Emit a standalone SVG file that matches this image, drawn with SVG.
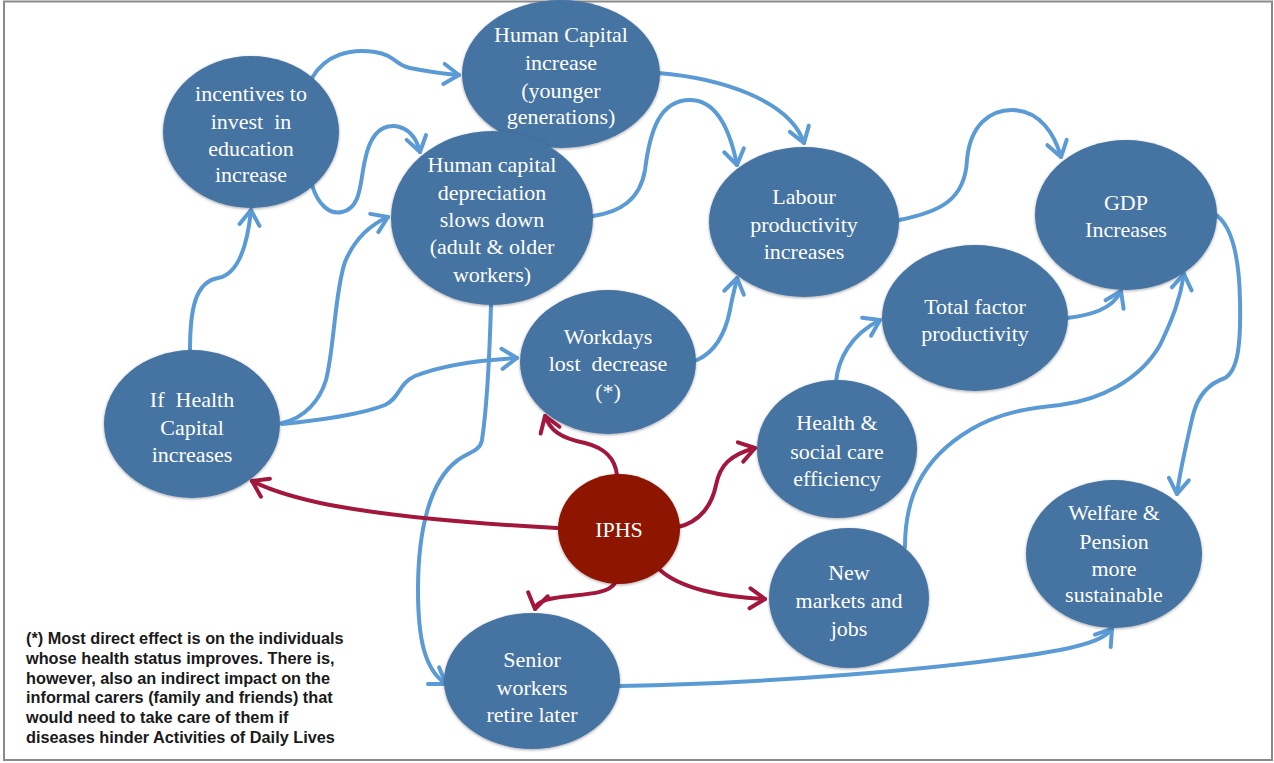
<svg xmlns="http://www.w3.org/2000/svg" width="1274" height="763" viewBox="0 0 1274 763">
<style>
.n{fill:#4573A2;filter:url(#sh)}
.r{fill:#8E1306;filter:url(#sh)}
.t{font-family:"Liberation Serif","Times New Roman",serif;font-size:22px;fill:#ffffff;text-anchor:middle}
.b{fill:none;stroke:#5B9BD5;stroke-width:4;stroke-linecap:round;stroke-linejoin:round;marker-end:url(#ab)}
.m{fill:none;stroke:#A3173D;stroke-width:4;stroke-linecap:round;stroke-linejoin:round;marker-end:url(#ar)}
.f{font-family:"Liberation Sans",Arial,sans-serif;font-size:16.3px;font-weight:bold;fill:#1a1a1a}
</style>
<defs>
<filter id="sh" x="-10%" y="-10%" width="120%" height="120%">
<feDropShadow dx="0" dy="1" stdDeviation="1.5" flood-color="#000" flood-opacity="0.35"/>
</filter>
<marker id="ab" markerUnits="userSpaceOnUse" markerWidth="24" markerHeight="28" refX="19" refY="14" orient="auto">
<path d="M4,4 L19,14 L4,24" fill="none" stroke="#5B9BD5" stroke-width="4" stroke-linecap="round" stroke-linejoin="round"/>
</marker>
<marker id="ar" markerUnits="userSpaceOnUse" markerWidth="24" markerHeight="28" refX="19" refY="14" orient="auto">
<path d="M4,4 L19,14 L4,24" fill="none" stroke="#A3173D" stroke-width="4" stroke-linecap="round" stroke-linejoin="round"/>
</marker>
</defs>
<rect x="0" y="0" width="1274" height="763" fill="#ffffff"/>
<rect x="4" y="1.5" width="1268" height="758.5" fill="none" stroke="#8a8a8a" stroke-width="2"/>

<g id="connectors">
<path class="b" d="M190,350 C190,310 195,282 218,278 C240,274 248,240 251,210"/>
<path class="b" d="M282,423 C305,418 320,400 326,380 C334,350 335,290 345,262 C355,238 372,224 388,217"/>
<path class="b" d="M282,424 C320,420 360,415 385,405 C400,398 398,384 415,376 C445,364 480,360 517,358"/>
<path class="b" d="M312,78 C325,55 350,48 375,52 C395,55 395,65 410,68 C430,72 445,74 459,75"/>
<path class="b" d="M312,185 C318,205 330,215 342,212 C362,208 360,180 365,160 C370,135 380,125 395,126 C410,128 417,140 420,152"/>
<path class="b" d="M658,73 C720,78 790,100 804,143"/>
<path class="b" d="M593,216 C620,212 640,200 645,170 C650,130 660,100 690,100 C720,100 732,140 737,165"/>
<path class="b" d="M899,220 C940,212 965,200 967,160 C970,125 990,110 1012,110 C1040,110 1055,135 1061,157"/>
<path class="b" d="M1067,318 C1090,315 1112,310 1121,291"/>
<path class="b" d="M1213,213 C1230,222 1239,250 1240,300 C1241,345 1238,370 1225,378 C1210,383 1198,395 1193,415 C1186,445 1180,470 1177,494"/>
<path class="b" d="M697,360 C715,352 725,335 730,310 C732,298 735,288 737,278"/>
<path class="b" d="M836,382 C838,360 850,335 880,320"/>
<path class="b" d="M905,547 C905,500 920,460 970,430 C1000,412 1030,408 1060,405 C1100,400 1140,380 1160,345 C1172,320 1180,300 1184,274"/>
<path class="b" d="M491,305 C490,340 488,400 482,440 C480,452 468,452 458,460 C430,480 418,530 418,590 C418,640 425,670 446,684"/>
<path class="b" d="M620,686 C750,684 950,670 1060,650 C1090,644 1105,638 1112,629"/>
<path class="m" d="M557,528 C480,524 400,518 330,505 C295,498 270,490 252,481"/>
<path class="m" d="M617,475 C615,458 605,448 585,443 C560,438 550,430 545,416"/>
<path class="m" d="M615,583 C608,595 580,594 555,598 C542,600 536,604 535,609"/>
<path class="m" d="M678,527 C700,522 712,505 716,485 C720,465 730,455 755,448"/>
<path class="m" d="M660,570 C680,588 720,597 765,599"/>
</g>

<g id="incentives"><ellipse class="n" cx="251" cy="132" rx="88" ry="76"/>
<text class="t" xml:space="preserve"><tspan x="251" y="101">incentives to</tspan><tspan x="251" y="129">invest  in</tspan><tspan x="251" y="156">education</tspan><tspan x="251" y="182">increase</tspan></text></g>

<g id="hc-increase"><ellipse class="n" cx="561" cy="74" rx="99" ry="74"/>
<text class="t"><tspan x="561" y="42">Human Capital</tspan><tspan x="561" y="70">increase</tspan><tspan x="561" y="98">(younger</tspan><tspan x="561" y="124">generations)</tspan></text></g>

<g id="hc-depreciation"><ellipse class="n" cx="492" cy="218" rx="101" ry="87"/>
<text class="t"><tspan x="492" y="172">Human capital</tspan><tspan x="492" y="200">depreciation</tspan><tspan x="492" y="227">slows down</tspan><tspan x="492" y="254">(adult &amp; older</tspan><tspan x="492" y="282">workers)</tspan></text></g>

<g id="labour"><ellipse class="n" cx="804" cy="222" rx="95" ry="75"/>
<text class="t"><tspan x="804" y="204">Labour</tspan><tspan x="804" y="232">productivity</tspan><tspan x="804" y="259">increases</tspan></text></g>

<g id="gdp"><ellipse class="n" cx="1126" cy="215" rx="91" ry="75"/>
<text class="t"><tspan x="1126" y="210">GDP</tspan><tspan x="1126" y="237">Increases</tspan></text></g>

<g id="tfp"><ellipse class="n" cx="975" cy="318" rx="93" ry="73"/>
<text class="t"><tspan x="975" y="314">Total factor</tspan><tspan x="975" y="341">productivity</tspan></text></g>

<g id="workdays"><ellipse class="n" cx="608" cy="362" rx="88" ry="72"/>
<text class="t" xml:space="preserve"><tspan x="608" y="344">Workdays</tspan><tspan x="608" y="371">lost  decrease</tspan><tspan x="608" y="399">(*)</tspan></text></g>

<g id="if-health"><ellipse class="n" cx="192" cy="424" rx="88" ry="74"/>
<text class="t" xml:space="preserve"><tspan x="192" y="407">If  Health</tspan><tspan x="192" y="435">Capital</tspan><tspan x="192" y="462">increases</tspan></text></g>

<g id="health-social"><ellipse class="n" cx="837" cy="449" rx="80" ry="69"/>
<text class="t"><tspan x="837" y="430">Health &amp;</tspan><tspan x="837" y="459">social care</tspan><tspan x="837" y="486">efficiency</tspan></text></g>

<g id="iphs"><ellipse class="r" cx="619" cy="529" rx="61" ry="55"/>
<text class="t"><tspan x="619" y="537">IPHS</tspan></text></g>

<g id="new-markets"><ellipse class="n" cx="849" cy="598" rx="80" ry="70"/>
<text class="t"><tspan x="849" y="580">New</tspan><tspan x="849" y="608">markets and</tspan><tspan x="849" y="636">jobs</tspan></text></g>

<g id="welfare"><ellipse class="n" cx="1114" cy="554" rx="88" ry="74"/>
<text class="t"><tspan x="1114" y="520">Welfare &amp;</tspan><tspan x="1114" y="549">Pension</tspan><tspan x="1114" y="576">more</tspan><tspan x="1114" y="602">sustainable</tspan></text></g>

<g id="senior"><ellipse class="n" cx="532" cy="681" rx="88" ry="68"/>
<text class="t"><tspan x="532" y="667">Senior</tspan><tspan x="532" y="695">workers</tspan><tspan x="532" y="722">retire later</tspan></text></g>

<g id="footnote">
<text class="f"><tspan x="26" y="644">(*) Most direct effect is on the individuals</tspan><tspan x="26" y="664">whose health status improves. There is,</tspan><tspan x="26" y="684">however, also an indirect impact on the</tspan><tspan x="26" y="703">informal carers (family and friends) that</tspan><tspan x="26" y="723">would need to take care of them if</tspan><tspan x="26" y="743">diseases hinder Activities of Daily Lives</tspan></text>
</g>
</svg>
